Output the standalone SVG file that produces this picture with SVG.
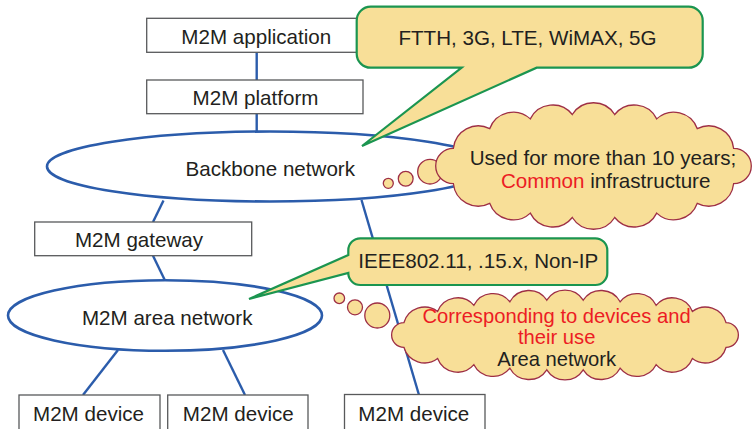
<svg xmlns="http://www.w3.org/2000/svg" width="754" height="429" viewBox="0 0 754 429">
  <defs>
    <style>
      .box { fill: #ffffff; stroke: #58595b; stroke-width: 1.3; }
      .net { fill: none; stroke: #2b5cab; stroke-width: 2.6; }
      .link { stroke: #2b5cab; stroke-width: 2.4; fill: none; }
      .lbl { font-family: "Liberation Sans", Arial, sans-serif; font-size: 20.6px; fill: #231f20; text-anchor: middle; }
      .tight { font-size: 20.2px; }
      .red { fill: #ec1c24; }
      .callout { fill: #f8df98; stroke: #1b9550; stroke-width: 2.2; stroke-linejoin: miter; }
      .cloud { fill: #f8df98; stroke: #9e2f45; stroke-width: 1.3; }
    </style>
  </defs>

  <!-- connectors -->
  <g id="connectors">
    <line class="link" x1="256.7" y1="52.3" x2="256.7" y2="80"/>
    <line class="link" x1="256.7" y1="113.7" x2="256.7" y2="132"/>
    <line class="link" x1="163.5" y1="200.5" x2="153" y2="222"/>
    <line class="link" x1="153" y1="255.7" x2="165" y2="280.5"/>
    <line class="link" x1="118" y1="350" x2="83" y2="395"/>
    <line class="link" x1="223" y1="350" x2="245" y2="395"/>
    <line class="link" x1="361.5" y1="200" x2="419" y2="395"/>
  </g>

  <!-- nodes -->
  <g id="m2m-application">
    <rect class="box" x="146.7" y="18.3" width="216.3" height="34"/>
    <text class="lbl" x="256.3" y="43.8">M2M application</text>
  </g>
  <g id="m2m-platform">
    <rect class="box" x="146.7" y="80" width="216.3" height="33.7"/>
    <text class="lbl" x="255.5" y="104.8">M2M platform</text>
  </g>
  <g id="backbone-network">
    <ellipse class="net" cx="270" cy="166.5" rx="223" ry="35"/>
    <text class="lbl" x="270.3" y="175.5">Backbone network</text>
  </g>
  <g id="m2m-gateway">
    <rect class="box" x="34.7" y="222" width="217" height="33.7"/>
    <text class="lbl" x="139" y="246.5">M2M gateway</text>
  </g>
  <g id="m2m-area-network">
    <ellipse class="net" cx="165" cy="315.5" rx="157" ry="35.3"/>
    <text class="lbl" x="167.2" y="325">M2M area network</text>
  </g>
  <g id="m2m-device-1">
    <rect class="box" x="19" y="395" width="141" height="40"/>
    <text class="lbl" x="88.5" y="420.7">M2M device</text>
  </g>
  <g id="m2m-device-2">
    <rect class="box" x="167.7" y="395" width="140.3" height="40"/>
    <text class="lbl" x="238.3" y="420.7">M2M device</text>
  </g>
  <g id="m2m-device-3">
    <rect class="box" x="344.5" y="394.5" width="140.5" height="40"/>
    <text class="lbl" x="413.8" y="420.7">M2M device</text>
  </g>

  <!-- speech callout: access technologies -->
  <g id="callout-access">
    <path class="callout" d="M370.7,6.7 H688.7 A14,14 0 0 1 702.7,20.7 V53.7 A14,14 0 0 1 688.7,67.7 H536.7 L362,146 L461.7,67.7 H370.7 A14,14 0 0 1 356.7,53.7 V20.7 A14,14 0 0 1 370.7,6.7 Z"/>
    <text class="lbl" x="527.5" y="45">FTTH, 3G, LTE, WiMAX, 5G</text>
  </g>

  <!-- thought cloud: backbone -->
  <g id="cloud-backbone">
    <circle class="cloud" cx="388.3" cy="183.3" r="5"/>
    <circle class="cloud" cx="405.7" cy="178.7" r="7.4"/>
    <circle class="cloud" cx="430" cy="171.7" r="12.3"/>
    <path class="cloud" d="M733.6,148.3 A17.7,17.7 0 0 1 733.6,183.7 A25,25 0 0 1 697.3,203.3 A25,25 0 0 1 656.7,213.1 A25,25 0 0 1 614.7,217.5 A25,25 0 0 1 572.3,217.5 A25,25 0 0 1 530.3,213.1 A25,25 0 0 1 489.7,203.3 A25,25 0 0 1 453.4,183.7 A17.7,17.7 0 0 1 453.4,148.3 A25,25 0 0 1 489.7,128.7 A25,25 0 0 1 530.3,118.9 A25,25 0 0 1 572.3,114.5 A25,25 0 0 1 614.7,114.5 A25,25 0 0 1 656.7,118.9 A25,25 0 0 1 697.3,128.7 A25,25 0 0 1 733.6,148.3 Z"/>
    <text class="lbl" x="603" y="165">Used for more than 10 years;</text>
    <text class="lbl" x="605.7" y="188.3"><tspan class="red">Common</tspan> infrastructure</text>
  </g>

  <!-- speech callout: area technologies -->
  <g id="callout-area">
    <path class="callout" d="M360.3,238.3 H595.3 A12,12 0 0 1 607.3,250.3 V273 A12,12 0 0 1 595.3,285 H360.3 A12,12 0 0 1 348.3,273 L249,299 L348.3,255 V250.3 A12,12 0 0 1 360.3,238.3 Z"/>
    <text class="lbl" x="478.3" y="268.3">IEEE802.11, .15.x, Non-IP</text>
  </g>

  <!-- thought cloud: area network -->
  <g id="cloud-area">
    <circle class="cloud" cx="339.3" cy="298.3" r="5.3"/>
    <circle class="cloud" cx="355" cy="307.3" r="7.5"/>
    <circle class="cloud" cx="377.3" cy="315.5" r="12.5"/>
    <path class="cloud" d="M726.1,322.7 A12.3,12.3 0 0 1 726.1,347.3 A21.5,21.5 0 0 1 692.4,358.5 A21.5,21.5 0 0 1 656.1,364.7 A21.5,21.5 0 0 1 620.1,368.2 A21.5,21.5 0 0 1 583.2,369.8 A21.5,21.5 0 0 1 546.8,369.8 A21.5,21.5 0 0 1 509.9,368.2 A21.5,21.5 0 0 1 473.9,364.7 A21.5,21.5 0 0 1 437.6,358.5 A21.5,21.5 0 0 1 403.9,347.3 A12.3,12.3 0 0 1 403.9,322.7 A21.5,21.5 0 0 1 437.6,311.5 A21.5,21.5 0 0 1 473.9,305.3 A21.5,21.5 0 0 1 509.9,301.8 A21.5,21.5 0 0 1 546.8,300.2 A21.5,21.5 0 0 1 583.2,300.2 A21.5,21.5 0 0 1 620.1,301.8 A21.5,21.5 0 0 1 656.1,305.3 A21.5,21.5 0 0 1 692.4,311.5 A21.5,21.5 0 0 1 726.1,322.7 Z"/>
    <text class="lbl tight red" x="556.5" y="322.6">Corresponding to devices and</text>
    <text class="lbl tight red" x="556.7" y="344.2">their use</text>
    <text class="lbl tight" x="556.7" y="365.6">Area network</text>
  </g>
</svg>
